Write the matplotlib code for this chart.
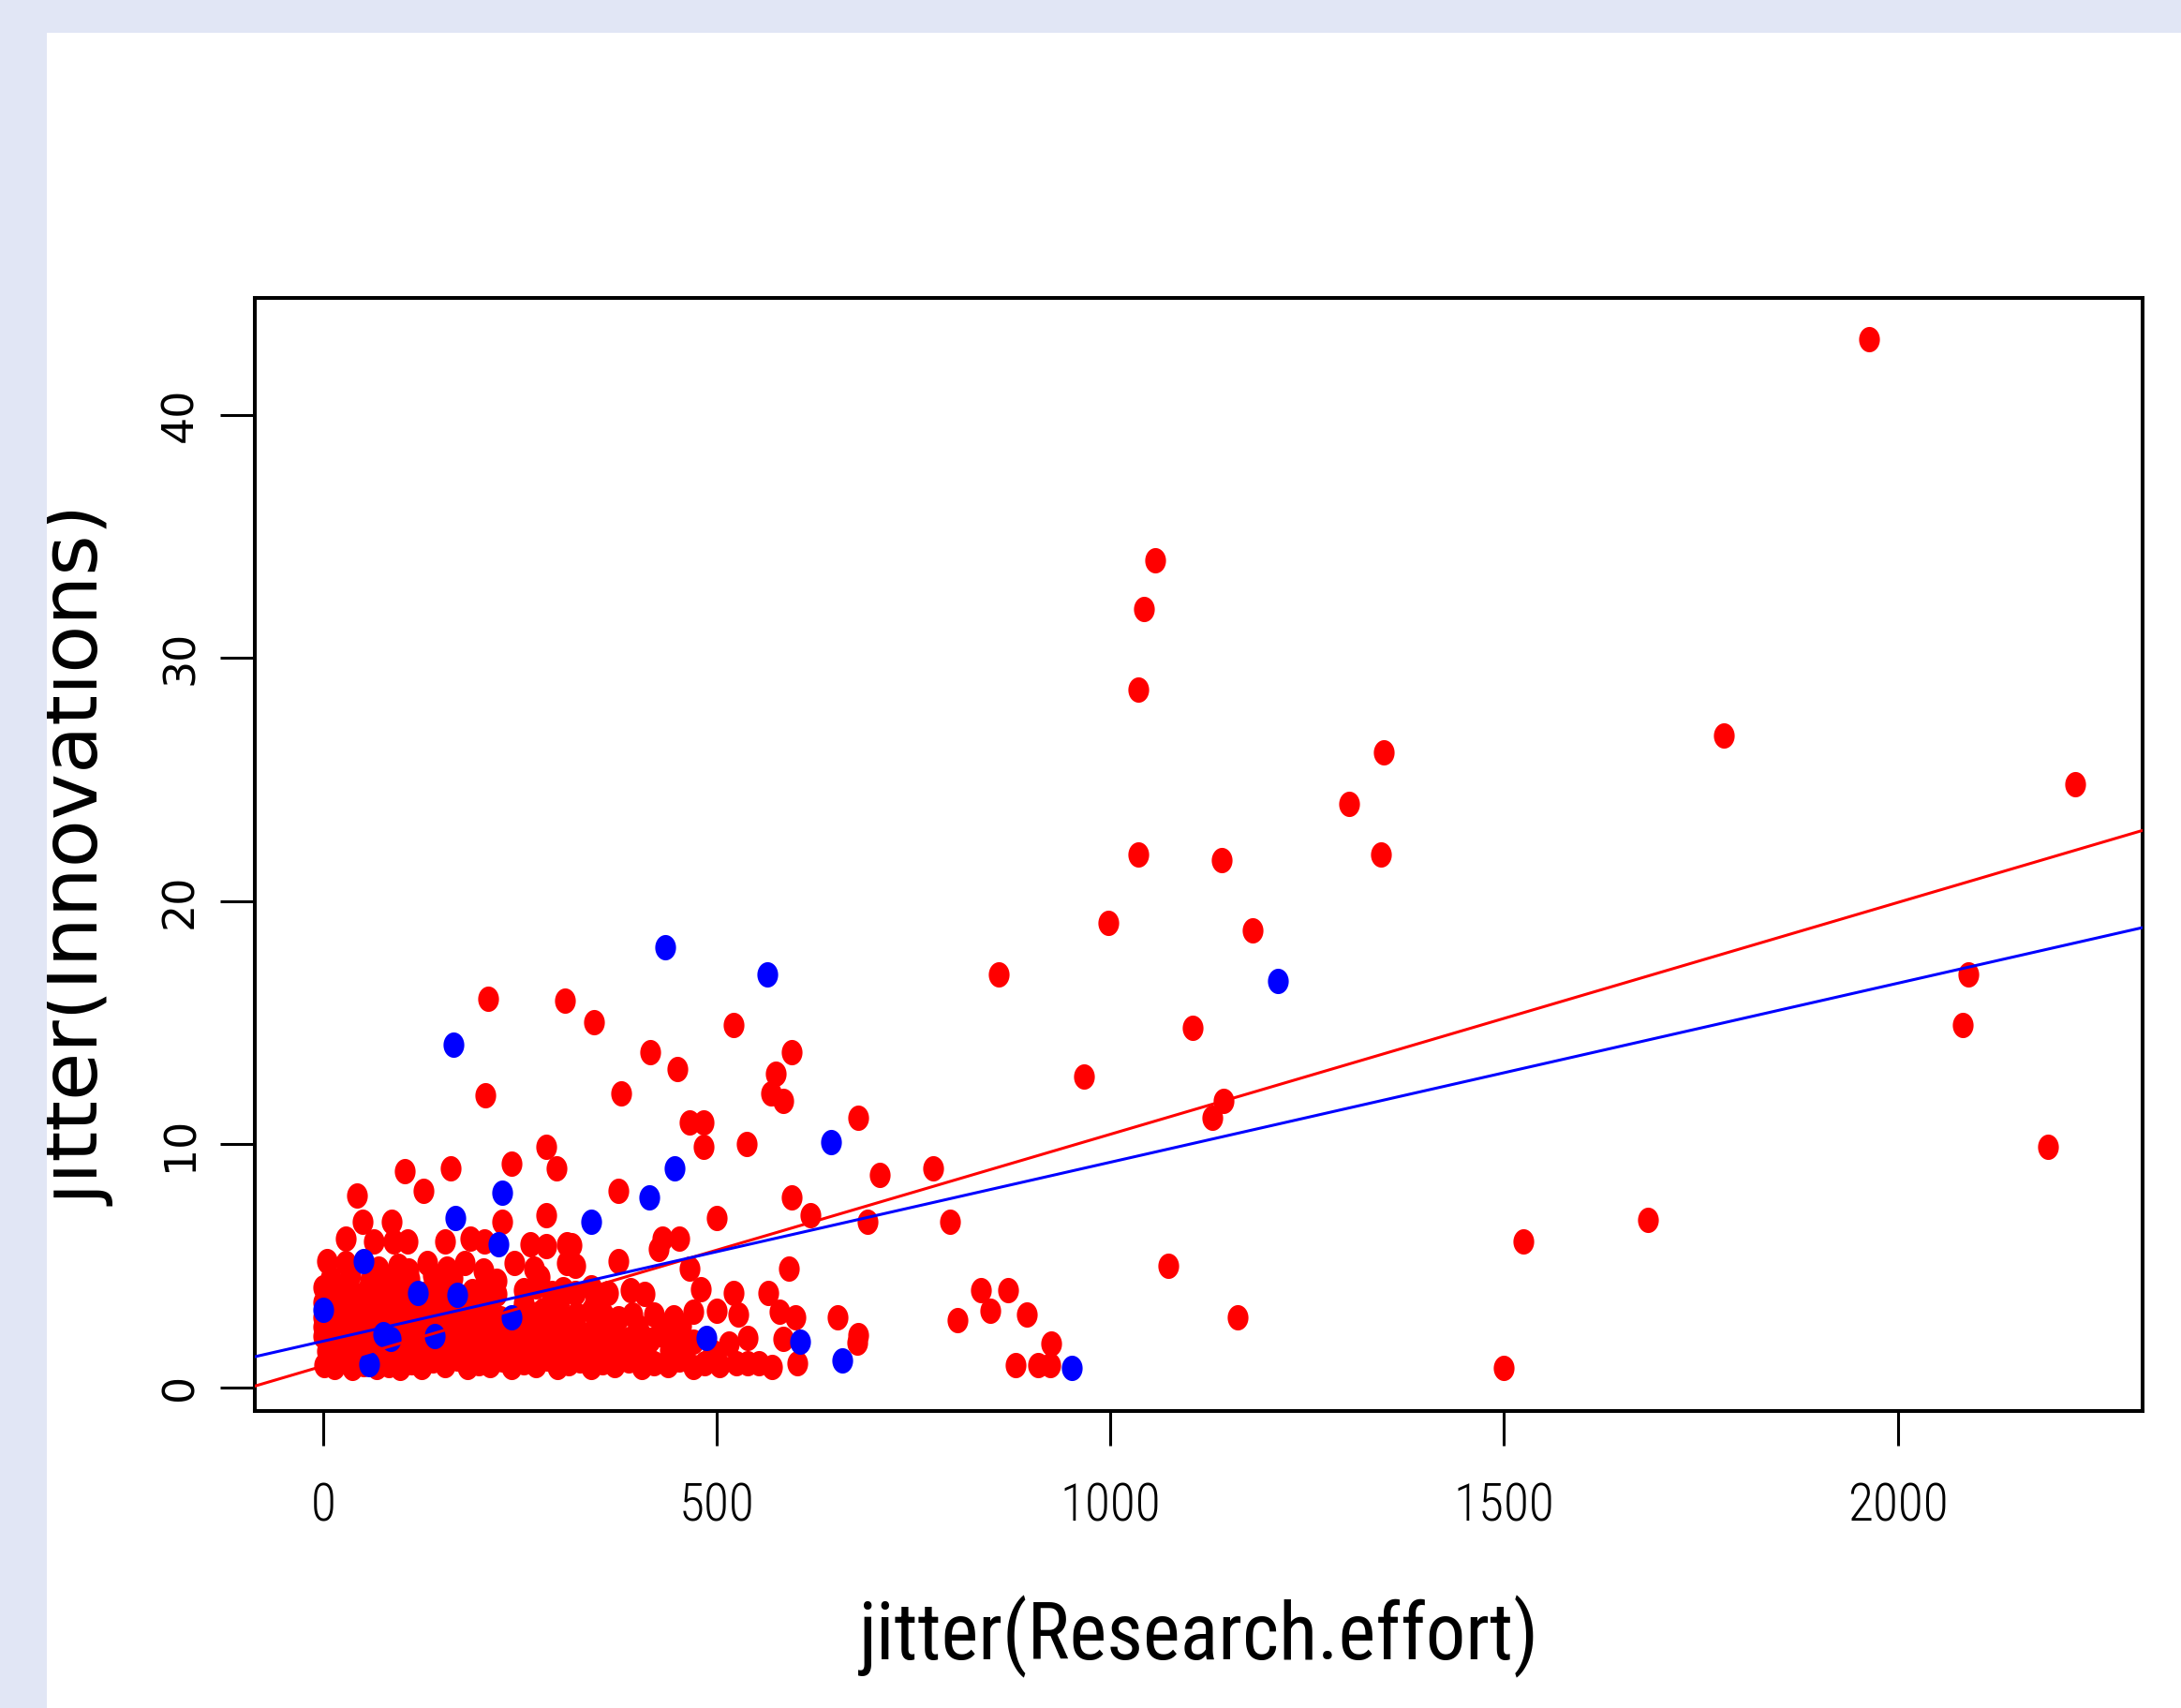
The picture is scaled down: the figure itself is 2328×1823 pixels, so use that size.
import matplotlib
matplotlib.use("Agg")
import matplotlib.pyplot as plt
import numpy as np
from matplotlib.patches import Rectangle

# ---------------- data ----------------
red_x = [1963, 1057, 1043, 1036, 1779, 1347, 2225, 1303, 1036, 1344, 1141, 1181, 997, 858, 2090,
         2083, 1105, 967, 1144, 1130, 2191, 1683, 1524, 1073, 1162, 1500,
         775, 796, 806, 707, 680, 691, 836, 870, 847, 894, 654, 678, 680, 925, 880, 908, 924,
         210, 307, 344, 521, 416, 595, 450, 575, 569, 584, 379, 206, 466, 483, 483, 538, 283, 297,
         239, 162, 104, 127, 43, 375, 595, 50, 87, 227, 283, 500, 619,
         29, 65, 90, 107, 155, 187, 205, 263, 283, 310, 315, 431, 452, 426,
         5, 29, 70, 95, 108, 132, 157, 180, 204, 243, 268, 310, 320, 375, 466, 592,
         10, 35, 60, 85, 110, 140, 165, 220, 275,
         0, 14, 28, 42, 56, 70, 84, 98, 132, 150, 190, 205, 220, 255, 270, 290, 305, 320, 340, 362,
         390, 408, 480, 522, 566,
         0, 22, 44, 66, 88, 110, 135, 160, 185, 210, 255, 300, 345,
         0, 12, 25, 38, 50, 63, 78, 92, 105, 120, 135, 150, 165, 180, 196, 210, 225, 252, 266, 280,
         300, 322, 340, 356, 375, 393, 420, 445, 470, 500, 527, 580, 600,
         0, 20, 40, 60, 80, 100, 120, 140, 160, 180, 200, 220, 240, 260, 280, 300, 320, 345, 370,
         400, 430, 455,
         0, 10, 20, 30, 40, 50, 62, 75, 88, 100, 115, 128, 140, 155, 168, 182, 195, 210, 225, 238,
         252, 265, 280, 295, 310, 325, 341, 360, 375, 389, 405, 416, 432, 451, 470, 516, 539, 585,
         5, 25, 45, 65, 85, 105, 125, 145, 165, 185, 205, 225, 245, 265, 285, 305, 325, 345, 365,
         385, 410, 440, 460, 495,
         2, 8, 15, 22, 30, 37, 45, 52, 60, 68, 75, 83, 90, 98, 112, 125, 140, 155, 170, 183,
         198, 212, 228, 240, 255, 270, 285, 298, 312, 326, 340, 355, 370, 388, 405, 420, 438, 452,
         470, 485, 504, 525, 539, 553, 570, 602]
red_y = [43.1, 34.0, 32.0, 28.7, 26.8, 26.1, 24.8, 24.0, 21.9, 21.9, 21.7, 18.8, 19.1, 17.0, 17.0,
         14.9, 14.8, 12.8, 11.8, 11.1, 9.9, 6.9, 6.0, 5.0, 2.9, 0.8,
         9.0, 6.8, 2.75, 8.75, 11.1, 6.8, 4.0, 4.0, 3.15, 3.0, 2.9, 1.85, 2.15, 1.8, 0.9, 0.9, 0.9,
         16.0, 15.9, 15.0, 14.9, 13.8, 13.8, 13.1, 12.9, 12.1, 11.8, 12.1, 12.0, 10.9, 10.9, 9.9, 10.0, 9.9, 9.0,
         9.2, 9.0, 8.9, 8.1, 7.9, 8.1, 7.8, 6.8, 6.8, 6.8, 7.1, 6.95, 7.1,
         6.1, 6.0, 6.0, 6.0, 6.0, 6.1, 6.0, 5.9, 5.8, 5.9, 5.85, 6.1, 6.1, 5.7,
         5.2, 5.1, 4.9, 5.0, 4.8, 5.1, 4.9, 5.1, 4.8, 5.1, 4.9, 5.1, 5.0, 5.2, 4.9, 4.9,
         4.5, 4.6, 4.4, 4.55, 4.45, 4.6, 4.5, 4.4, 4.55,
         4.1, 3.9, 4.2, 3.8, 4.0, 4.15, 3.85, 4.05, 3.9, 4.1, 3.95, 4.2, 3.85, 4.0, 4.15, 3.9, 4.05, 3.9, 4.1, 3.9,
         4.0, 3.85, 4.05, 3.9, 3.9,
         3.5, 3.45, 3.6, 3.5, 3.4, 3.55, 3.5, 3.45, 3.6, 3.5, 3.45, 3.55, 3.5,
         2.9, 3.15, 2.85, 3.1, 3.2, 2.9, 3.05, 2.8, 3.15, 2.95, 3.1, 2.85, 3.2, 3.0, 2.9, 3.15, 2.85, 3.1, 2.9, 3.2,
         2.95, 3.0, 3.15, 3.0, 2.85, 3.0, 3.0, 2.9, 3.1, 3.15, 3.0, 3.1, 2.9,
         2.5, 2.45, 2.6, 2.5, 2.55, 2.45, 2.5, 2.6, 2.45, 2.5, 2.55, 2.5, 2.45, 2.6, 2.5, 2.45, 2.55, 2.5, 2.6,
         2.5, 2.45, 2.55,
         2.1, 1.85, 2.2, 1.95, 2.05, 1.8, 2.15, 1.9, 2.2, 1.85, 2.05, 1.9, 2.2, 1.8, 2.0, 2.15, 1.85, 2.05, 1.9, 2.2,
         1.8, 2.0, 2.15, 1.85, 2.05, 1.9, 2.0, 2.15, 1.85, 2.0, 2.1, 1.95, 2.15, 2.0, 1.9, 1.8, 2.05, 2.0,
         1.5, 1.55, 1.45, 1.5, 1.6, 1.45, 1.5, 1.55, 1.5, 1.45, 1.6, 1.5, 1.55, 1.45, 1.5, 1.6, 1.5, 1.45, 1.55,
         1.5, 1.45, 1.55, 1.5, 1.45,
         0.9, 1.15, 0.85, 1.1, 1.2, 0.8, 1.05, 0.95, 1.2, 0.85, 1.1, 0.9, 1.15, 0.8, 1.05, 0.85, 1.1, 0.9, 1.2, 0.85,
         1.0, 0.9, 1.15, 0.85, 1.05, 0.9, 1.2, 0.85, 1.0, 1.1, 0.85, 1.05, 0.9, 1.1, 0.85, 1.0, 0.9, 1.15,
         0.85, 1.0, 0.9, 1.0, 1.0, 1.0, 0.85, 1.0]

blue_x = [1213, 435, 564, 166, 645, 446, 228, 414, 341, 168, 951, 660, 606, 487,
          0, 51, 120, 171, 223, 239, 76, 86, 142, 58]
blue_y = [16.7, 18.1, 17.0, 14.1, 10.1, 9.0, 8.0, 7.8, 6.8, 6.95, 0.8, 1.1, 1.9, 2.05,
          3.2, 5.2, 3.9, 3.8, 5.9, 2.9, 2.2, 2.0, 2.1, 0.97]

# fitted regression lines: (intercept, slope)
red_fit = (0.88, 0.00953)
blue_fit = (1.90, 0.00736)

x_ticks = [0, 500, 1000, 1500, 2000]
y_ticks = [0, 10, 20, 30, 40]
x_label = "jitter(Research.effort)"
y_label = "jitter(Innovations)"

# ---------------- figure ----------------
W, H = 2328, 1823
fig = plt.figure(figsize=(W / 100, H / 100), dpi=100)
fig.patch.set_facecolor("white")
band = "#E1E6F5"
fig.patches.append(Rectangle((0, 1 - 35 / H), 1, 35 / H, transform=fig.transFigure,
                             facecolor=band, edgecolor="none", zorder=0))
fig.patches.append(Rectangle((0, 0), 50 / W, 1, transform=fig.transFigure,
                             facecolor=band, edgecolor="none", zorder=0))

L, R, T, B = 272, 2287, 318, 1506
ax = fig.add_axes([L / W, 1 - B / H, (R - L) / W, (B - T) / H])

# elliptical marker (taller than wide)
th = np.linspace(0, 2 * np.pi, 60)
ell = np.column_stack([0.41 * np.cos(th), 0.5 * np.sin(th)])

ax.plot(red_x, red_y, ls="none", marker=ell, ms=19.5, mfc="#FF0000", mec="none", zorder=2)
ax.plot(blue_x, blue_y, ls="none", marker=ell, ms=19.5, mfc="#0000FF", mec="none", zorder=3)

ax.axline((0, red_fit[0]), slope=red_fit[1], color="#FF0000", lw=2.2, zorder=4)
ax.axline((0, blue_fit[0]), slope=blue_fit[1], color="#0000FF", lw=2.2, zorder=4)

ax.set_xlim(-86.6, 2311)
ax.set_ylim(-0.97, 44.8)
ax.set_xticks(x_ticks)
ax.set_yticks(y_ticks)
ax.set_xticklabels([str(v) for v in x_ticks], fontfamily="Roboto Condensed",
                   fontweight=300, fontsize=40)
ax.set_yticklabels([str(v) for v in y_ticks], fontfamily="DejaVu Sans", fontsize=33,
                   rotation=90, va="center")
ax.tick_params(axis="both", direction="out", length=26.6, width=2.2, color="black")
ax.tick_params(axis="x", pad=28)
ax.tick_params(axis="y", pad=14)

for s in ax.spines.values():
    s.set_linewidth(2.9)
    s.set_color("black")

ax.set_xlabel(x_label, fontfamily="Roboto Condensed", fontsize=61)
ax.xaxis.label.set_va("center")
ax.xaxis.set_label_coords(0.5, -0.203)
ax.set_ylabel(y_label, fontfamily="DejaVu Sans", fontsize=60)
ax.yaxis.label.set_va("center")
ax.yaxis.set_label_coords(-0.0943, 0.499)

fig.savefig("out.png", dpi=100)
